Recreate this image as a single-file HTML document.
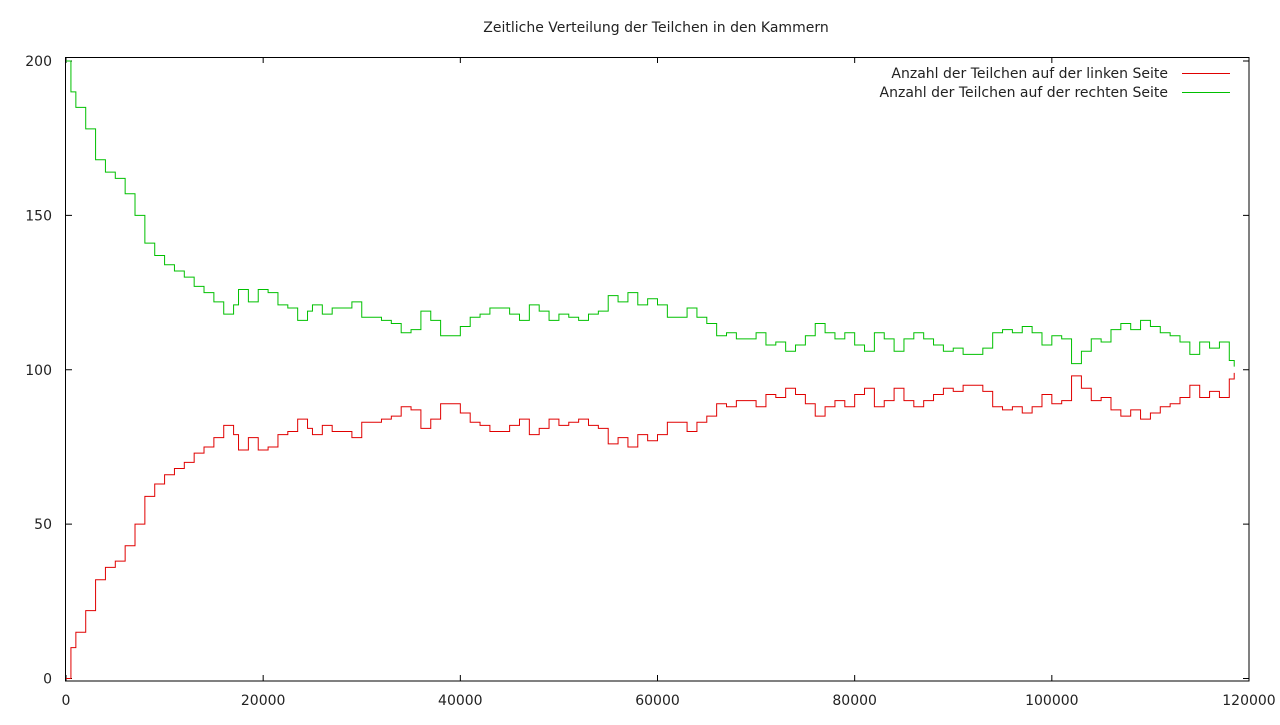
<!DOCTYPE html>
<html><head><meta charset="utf-8"><style>
body{margin:0;background:#fff}
svg text{font-family:"DejaVu Sans","Liberation Sans",sans-serif;font-size:14px;fill:#222}
</style></head><body>
<svg id="chart" width="1280" height="720">
<text x="656" y="32" text-anchor="middle">Zeitliche Verteilung der Teilchen in den Kammern</text>
<rect x="65.5" y="57.5" width="1183.5" height="623.5" fill="none" stroke="#000"/>
<g id="axes"></g>
<g id="series"></g>
<g>
<text x="1168" y="78" text-anchor="end">Anzahl der Teilchen auf der linken Seite</text>
<line x1="1182" y1="73.5" x2="1230" y2="73.5" stroke="#e00000"/>
<text x="1168" y="97" text-anchor="end">Anzahl der Teilchen auf der rechten Seite</text>
<line x1="1182" y1="92.5" x2="1230" y2="92.5" stroke="#00c000"/>
</g>
</svg>
<script>
const xs=[0,500,1000,2000,3000,4000,5000,6000,7000,8000,9000,10000,11000,12000,13000,14000,15000,16000,17000,17500,18500,19500,20500,21500,22500,23500,24500,25000,26000,27000,28000,29000,30000,31000,32000,33000,34000,35000,36000,37000,38000,39000,40000,41000,42000,43000,44000,45000,46000,47000,48000,49000,50000,51000,52000,53000,54000,55000,56000,57000,58000,59000,60000,61000,62000,63000,64000,65000,66000,67000,68000,69000,70000,71000,72000,73000,74000,75000,76000,77000,78000,79000,80000,81000,82000,83000,84000,85000,86000,87000,88000,89000,90000,91000,92000,93000,94000,95000,96000,97000,98000,99000,100000,101000,102000,103000,104000,105000,106000,107000,108000,109000,110000,111000,112000,113000,114000,115000,116000,117000,118000,118500];
const rightSide=[200,190,185,178,168,164,162,157,150,141,137,134,132,130,127,125,122,118,121,126,122,126,125,121,120,116,119,121,118,120,120,122,117,117,116,115,112,113,119,116,111,111,114,117,118,120,120,118,116,121,119,116,118,117,116,118,119,124,122,125,121,123,121,117,117,120,117,115,111,112,110,110,112,108,109,106,108,111,115,112,110,112,108,106,112,110,106,110,112,110,108,106,107,105,105,107,112,113,112,114,112,108,111,110,102,106,110,109,113,115,113,116,114,112,111,109,105,109,107,109,103,101];
const leftSide=[0,10,15,22,32,36,38,43,50,59,63,66,68,70,73,75,78,82,79,74,78,74,75,79,80,84,81,79,82,80,80,78,83,83,84,85,88,87,81,84,89,89,86,83,82,80,80,82,84,79,81,84,82,83,84,82,81,76,78,75,79,77,79,83,83,80,83,85,89,88,90,90,88,92,91,94,92,89,85,88,90,88,92,94,88,90,94,90,88,90,92,94,93,95,95,93,88,87,88,86,88,92,89,90,98,94,90,91,87,85,87,84,86,88,89,91,95,91,93,91,97,99];
const xTicks=[0,20000,40000,60000,80000,100000,120000];
const yTicks=[0,50,100,150,200];
const X=v=>66+v*(1249-66)/120000;
const Y=v=>678.5-v*3.0875;
const NS="http://www.w3.org/2000/svg";
const axes=document.getElementById('axes'),series=document.getElementById('series');
function mk(t,a,p){const e=document.createElementNS(NS,t);for(const k in a)e.setAttribute(k,a[k]);p.appendChild(e);return e;}
xTicks.forEach(t=>{
 const l=mk('path',{d:`M${X(t)},681V675M${X(t)},57V63`,stroke:'#000'},axes);
 
 
 const tx=mk('text',{x:X(t),y:705,'text-anchor':'middle'},axes);tx.textContent=t;
 
 
});
yTicks.forEach(t=>{
 const l=mk('path',{d:`M66,${Y(t)}H72M1249,${Y(t)}H1243`,stroke:'#000'},axes);
 
 
 const tx=mk('text',{x:52,y:Y(t)+5,'text-anchor':'end'},axes);tx.textContent=t;
 
 
});
function stepPath(vals){let d=`M${X(xs[0])},${Y(vals[0])}`;for(let i=1;i<xs.length;i++){d+=`H${X(xs[i])}V${Y(vals[i])}`;}return d;}
const g=mk('path',{d:stepPath(rightSide),fill:'none',stroke:'#00c000','stroke-width':1},series);


const r=mk('path',{d:stepPath(leftSide),fill:'none',stroke:'#e00000','stroke-width':1},series);


</script>
</body></html>
